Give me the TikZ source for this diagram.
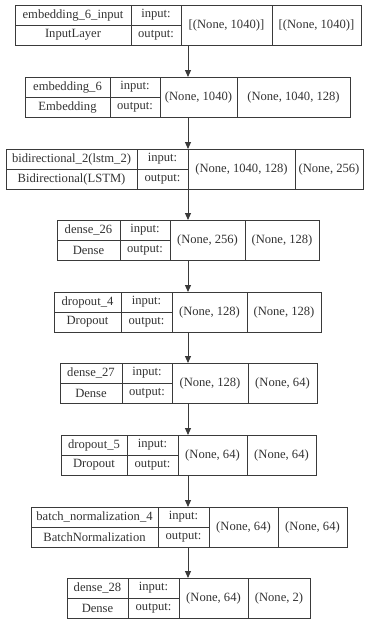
\documentclass[tikz,border=0pt]{standalone}
\usepackage{fontspec}
\setmainfont{Liberation Serif}
\usetikzlibrary{arrows.meta}
\definecolor{linec}{HTML}{3A3A3A}
\definecolor{textc}{HTML}{333333}
\tikzset{
  boxst/.style={draw=linec, line width=0.9pt, inner sep=0pt, anchor=north west, minimum height=40pt},
  sep/.style={draw=linec, line width=0.9pt},
  txt/.style={text=textc, inner sep=0pt, font=\fontsize{12.6}{14}\selectfont},
  arr/.style={draw=linec, line width=0.9pt, -{Triangle[length=7pt,width=6pt]}},
}
% #1 id, #2 left, #3 d1, #4 d2, #5 d3, #6 right, #7 top, #8 name, #9 type
\newcommand\kbox[9]{%
  \node[boxst, minimum width={#6pt-#2pt}] (#1) at (#2,-#7) {};
  \draw[sep] (#3,-#7) -- (#3,{-#7-40});
  \draw[sep] (#4,-#7) -- (#4,{-#7-40});
  \draw[sep] (#5,-#7) -- (#5,{-#7-40});
  \draw[sep] (#2,{-#7-20}) -- (#4,{-#7-20});
  \node[txt] (#1name) at ({(#2+#3)/2},{-#7-10}) {#8};
  \node[txt] (#1type) at ({(#2+#3)/2},{-#7-30}) {#9};
  \node[txt] (#1in) at ({(#3+#4)/2},{-#7-10}) {input:};
  \node[txt] (#1out) at ({(#3+#4)/2},{-#7-30}) {output:};
  \xdef\kD{#4}\xdef\kE{#5}\xdef\kR{#6}\xdef\kT{#7}\xdef\kId{#1}%
}
\newcommand\kshapes[2]{%
  \node[txt] (\kId ishape) at ({(\kD+\kE)/2},{-\kT-20}) {#1};
  \node[txt] (\kId oshape) at ({(\kE+\kR)/2},{-\kT-20}) {#2};
}
\begin{document}
\begin{tikzpicture}[x=1pt,y=1pt]
\useasboundingbox[fill=white] (0,0) rectangle (365,-619);
\coordinate (ax) at (188,0);

\kbox{b1}{15}{131}{181}{272}{361}{5}{embedding\_6\_input}{InputLayer}
\kshapes{[(None, 1040)]}{[(None, 1040)]}

\kbox{b2}{25}{110}{160}{237}{350}{77}{embedding\_6}{Embedding}
\kshapes{(None, 1040)}{(None, 1040, 128)}

\kbox{b3}{6}{137}{188}{295}{363}{149}{bidirectional\_2(lstm\_2)}{Bidirectional(LSTM)}
\kshapes{(None, 1040, 128)}{(None, 256)}

\kbox{b4}{57}{120}{170}{245}{319}{220}{dense\_26}{Dense}
\kshapes{(None, 256)}{(None, 128)}

\kbox{b5}{54}{121}{172}{247}{321}{292}{dropout\_4}{Dropout}
\kshapes{(None, 128)}{(None, 128)}

\kbox{b6}{60}{122}{172}{248}{317}{363}{dense\_27}{Dense}
\kshapes{(None, 128)}{(None, 64)}

\kbox{b7}{61}{127}{178}{247}{316}{435}{dropout\_5}{Dropout}
\kshapes{(None, 64)}{(None, 64)}

\kbox{b8}{31}{158}{209}{278}{347}{507}{batch\_normalization\_4}{BatchNormalization}
\kshapes{(None, 64)}{(None, 64)}

\kbox{b9}{67}{128}{179}{248}{310}{578}{dense\_28}{Dense}
\kshapes{(None, 64)}{(None, 2)}

\foreach \a/\b in {b1/b2,b2/b3,b3/b4,b4/b5,b5/b6,b6/b7,b7/b8,b8/b9}{
  \draw[arr] (\a.south -| ax) -- (\b.north -| ax);
}
\end{tikzpicture}
\end{document}
